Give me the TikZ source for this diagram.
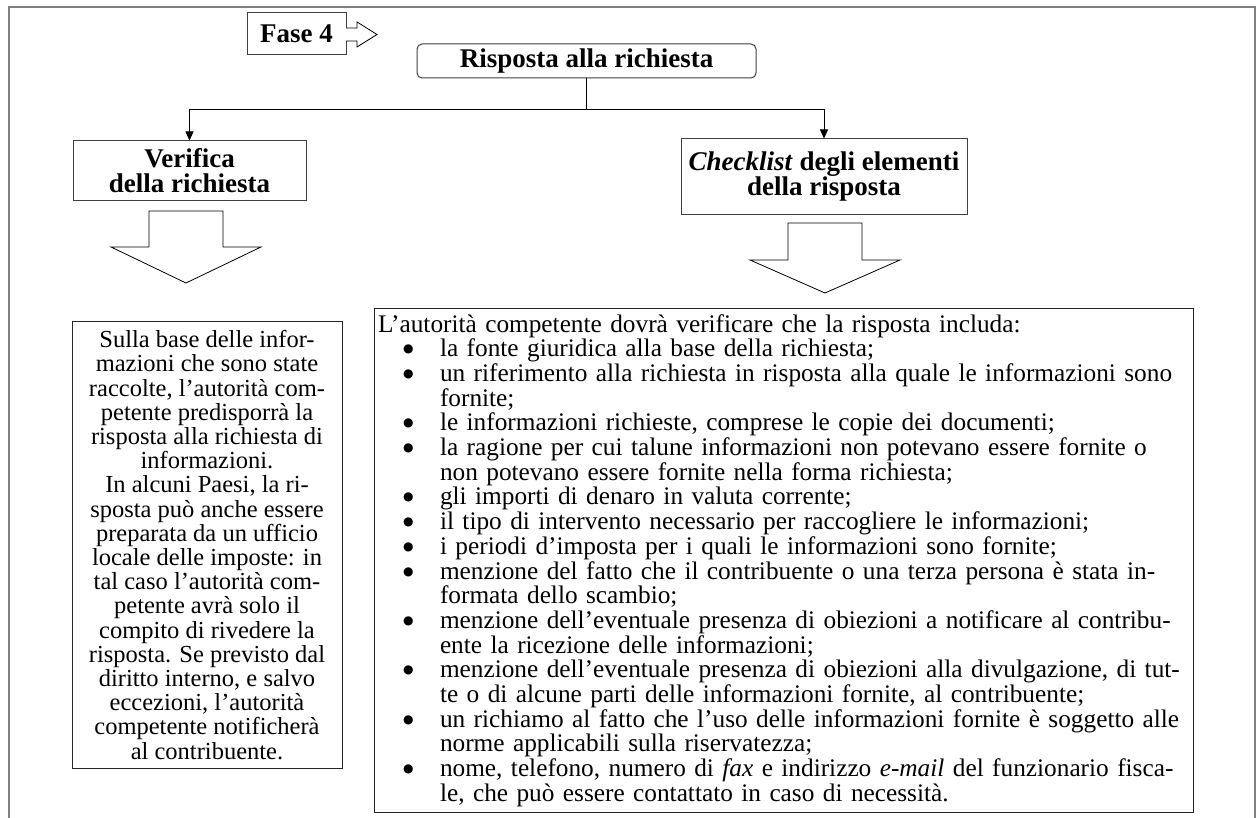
\documentclass[tikz,border=0pt]{standalone}
\usepackage{fontspec}
\setmainfont{Liberation Serif}
\newfontfamily\symfont{DejaVu Sans}
\usetikzlibrary{arrows.meta}
\newcommand\bitem[1]{\hspace*{25pt}\makebox[37pt][l]{\raisebox{4pt}{\symfont\fontsize{12}{12}\selectfont ●}}#1}
\newcommand\citem[1]{\hspace*{62pt}#1}
\begin{document}
\begin{tikzpicture}[x=1pt,y=-1pt,
  hbox/.style={draw=black!75, line width=1pt, inner sep=0pt, align=center, font=\fontsize{27}{25}\selectfont\bfseries},
  tbox/.style={draw=black!85, line width=1pt, inner sep=0pt},
  blockarrow/.style={draw=black, line width=0.8pt, line join=miter, fill=white},
  conn/.style={draw=black, line width=0.8pt},
  tip/.style={-{Triangle[length=9pt,width=8pt]}}
]
\useasboundingbox (0,0) rectangle (1256,818);
\fill[white] (0,0) rectangle (1256,818);
\draw[draw=black!50, line width=1.5pt] (9,818) -- (9,7) -- (1255,7) -- (1255,818);

\node[hbox, minimum width=99pt, minimum height=42pt] (fase) at (296.5,34) {Fase 4};
\draw[blockarrow] (346,28) -- (357,28) -- (357,22) -- (377,34.5) -- (357,47) -- (357,41) -- (346,41);

\node[hbox, rounded corners=5pt, minimum width=339pt, minimum height=34pt] (risp) at (586.5,61) {Risposta alla richiesta};
\node[hbox, minimum width=233pt, minimum height=60pt] (verif) at (189.5,171) {Verifica\\della richiesta};
\node[hbox, minimum width=286pt, minimum height=76pt] (check) at (824,177) {\textit{Checklist} degli elementi\\della risposta};

\coordinate (j) at (586.5,109);
\draw[conn] (risp.south) -- (j);
\draw[conn, tip] (j) -| (verif.north);
\draw[conn, tip] (j) -| (check.north);

\draw[blockarrow] (149,211) -- (223,211) -- (223,247) -- (261,247) -- (186,283) -- (111,247) -- (149,247) -- cycle;
\draw[blockarrow] (788,223) -- (862,223) -- (862,260) -- (900,260) -- (825,293) -- (750,260) -- (788,260) -- cycle;

\node[tbox, minimum width=270pt, minimum height=446pt, align=center, font=\fontsize{24.5}{24.2}\selectfont] (ltext) at (207,545) {%
Sulla base delle infor-\\
mazioni che sono state\\
raccolte, l’autorità com-\\
petente predisporrà la\\
risposta alla richiesta di\\
informazioni.\\
In alcuni Paesi, la ri-\\
sposta può anche essere\\
preparata da un ufficio\\
locale delle imposte: in\\
tal caso l’autorità com-\\
petente avrà solo il\\
compito di rivedere la\\
risposta. Se previsto dal\\
diritto interno, e salvo\\
eccezioni, l’autorità\\
competente notificherà\\
al contribuente.};

\node[tbox, minimum width=819pt, minimum height=503pt, text width=811pt, inner xsep=4pt, align=left, font=\fontsize{25.3}{24.7}\selectfont] (rtext) at (783.5,560.5) {%
L’autorità competente dovrà verificare che la risposta includa:\\
\bitem{la fonte giuridica alla base della richiesta;}\\
\bitem{un riferimento alla richiesta in risposta alla quale le informazioni sono}\\
\citem{fornite;}\\
\bitem{le informazioni richieste, comprese le copie dei documenti;}\\
\bitem{la ragione per cui talune informazioni non potevano essere fornite o}\\
\citem{non potevano essere fornite nella forma richiesta;}\\
\bitem{gli importi di denaro in valuta corrente;}\\
\bitem{il tipo di intervento necessario per raccogliere le informazioni;}\\
\bitem{i periodi d’imposta per i quali le informazioni sono fornite;}\\
\bitem{menzione del fatto che il contribuente o una terza persona è stata in-}\\
\citem{formata dello scambio;}\\
\bitem{menzione dell’eventuale presenza di obiezioni a notificare al contribu-}\\
\citem{ente la ricezione delle informazioni;}\\
\bitem{menzione dell’eventuale presenza di obiezioni alla divulgazione, di tut-}\\
\citem{te o di alcune parti delle informazioni fornite, al contribuente;}\\
\bitem{un richiamo al fatto che l’uso delle informazioni fornite è soggetto alle}\\
\citem{norme applicabili sulla riservatezza;}\\
\bitem{nome, telefono, numero di \textit{fax} e indirizzo \textit{e-mail} del funzionario fisca-}\\
\citem{le, che può essere contattato in caso di necessità.}};
\end{tikzpicture}
\end{document}
